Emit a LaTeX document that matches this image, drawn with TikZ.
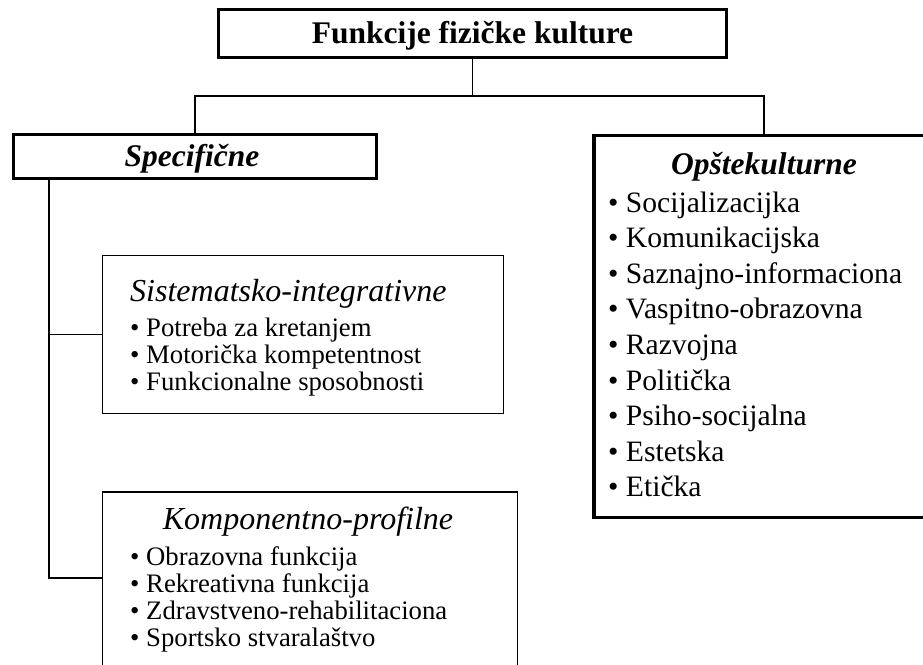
\documentclass[tikz,border=0pt]{standalone}
\usepackage{fontspec}
\setmainfont{Liberation Serif}
\begin{document}
\begin{tikzpicture}[x=1pt,y=-1pt,
  thickbox/.style={draw, line width=3.2pt, inner sep=0pt},
  thinbox/.style={draw, line width=1.5pt, inner sep=0pt},
  link/.style={line width=1.6pt},
  txt/.style={inner sep=0pt, anchor=base},
  itemtxt/.style={inner sep=0pt, anchor=base west},
  headfont/.style={font=\fontsize{31.5}{36}\selectfont\bfseries},
  headitfont/.style={font=\fontsize{31.5}{36}\selectfont\bfseries\itshape},
  subheadfont/.style={font=\fontsize{32}{36}\selectfont\itshape},
  bigitem/.style={itemtxt, font=\fontsize{29.6}{34}\selectfont},
  smallitem/.style={itemtxt, font=\fontsize{26.7}{30}\selectfont}]
\useasboundingbox (0,0) rectangle (923,664);
\clip (0,0) rectangle (923,664);

% boxes
\node[thickbox, minimum width=508pt, minimum height=48pt] (top) at (472.5,33.5) {};
\node[thickbox, minimum width=363pt, minimum height=44pt] (spec) at (195,156.5) {};
\node[thickbox, minimum width=340pt, minimum height=382pt] (opste) at (764,326.5) {};
\node[thinbox, minimum width=401pt, minimum height=158pt] (sist) at (303,334.5) {};
\node[thinbox, minimum width=415pt, minimum height=196pt] (komp) at (310,590) {};

% headings
\node[txt, headfont] (ttop) at (472.5,43) {Funkcije fizičke kulture};
\node[txt, headitfont] (tspec) at (192,166) {Specifične};
\node[txt, headitfont] (topste) at (764,174) {Opštekulturne};
\node[itemtxt, subheadfont] (tsist) at (130,301) {Sistematsko-integrativne};
\node[txt, subheadfont] (tkomp) at (308,529) {Komponentno-profilne};

% item lists
\foreach \t [count=\i from 0] in {Socijalizacijka,Komunikacijska,Saznajno-informaciona,Vaspitno-obrazovna,Razvojna,Politička,Psiho-socijalna,Estetska,Etička}
  \node[bigitem] (o\i) at (608,212+35.6*\i) {• \t};
\foreach \t [count=\i from 0] in {Potreba za kretanjem,Motorička kompetentnost,Funkcionalne sposobnosti}
  \node[smallitem] (s\i) at (130,336+27*\i) {• \t};
\foreach \t [count=\i from 0] in {Obrazovna funkcija,Rekreativna funkcija,Zdravstveno-rehabilitaciona,Sportsko stvaralaštvo}
  \node[smallitem] (k\i) at (130,565+27.3*\i) {• \t};

% connectors
\coordinate (j) at (472.5,96);
\coordinate (trunk) at (49,0);
\coordinate (kin) at (102.5,578);
\draw[link] (top.south) -- (j);
\draw[link] (spec.north) |- (j) -| (opste.north);
\draw[link] (spec.south -| trunk) |- (kin);
\draw[link] (trunk |- sist.west) -- (sist.west);
\end{tikzpicture}
\end{document}
